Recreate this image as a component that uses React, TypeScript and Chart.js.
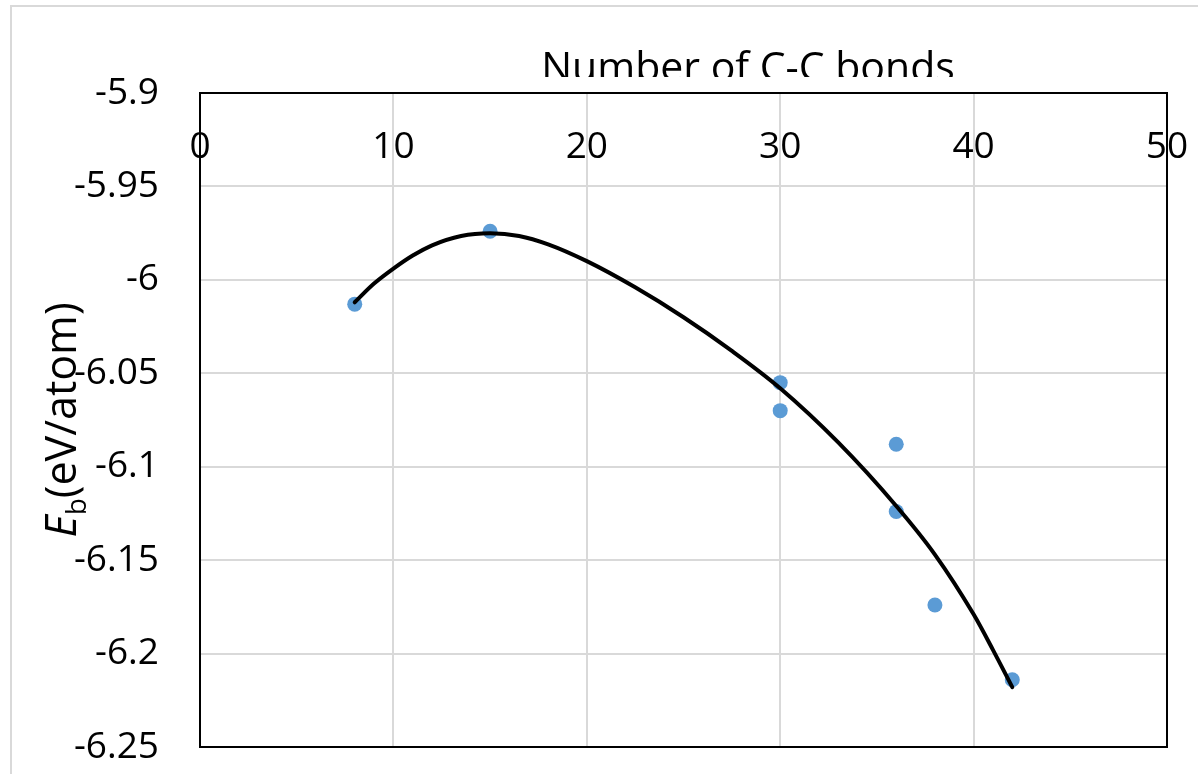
import React, { useEffect, useRef } from 'react';
import { Chart, registerables } from 'chart.js';

Chart.register(...registerables);

// Measured data points
const pointsX = [8, 15, 30, 30, 36, 36, 38, 42];
const pointsY = [-6.013, -5.974, -6.055, -6.07, -6.088, -6.124, -6.174, -6.214];

// Trendline
const trendX = [8, 9, 10, 11, 12, 13.5, 15, 16.5, 18, 20, 22.5, 25, 27.5, 30, 33, 36, 38, 40, 41, 42];
const trendY = [-6.012, -6.002, -5.994, -5.987, -5.9815, -5.9765, -5.975, -5.9765, -5.981, -5.99, -6.004, -6.02, -6.038, -6.058, -6.087, -6.121, -6.147, -6.179, -6.198, -6.218];

const xTicks = [0, 10, 20, 30, 40, 50];
const xTickLabels = ['0', '10', '20', '30', '40', '50'];
const yTicks = [-5.9, -5.95, -6, -6.05, -6.1, -6.15, -6.2, -6.25];
const yTickLabels = ['-5.9', '-5.95', '-6', '-6.05', '-6.1', '-6.15', '-6.2', '-6.25'];

const xTitle = 'Number of C-C bonds';
const yTitleMain = 'E';
const yTitleSub = 'b';
const yTitleRest = '(eV/atom)';

const FONT = '"Open Sans", sans-serif';
const TICK_SIZE = 37;
const TITLE_SIZE = 41;
const YTITLE_SIZE = 43;
const GRID = '#d9d9d9';

const decor = {
  id: 'decor',
  beforeDraw(chart: any) {
    const ctx = chart.ctx;
    ctx.save();
    ctx.fillStyle = '#ffffff';
    ctx.fillRect(0, 0, chart.width, chart.height);
    ctx.strokeStyle = GRID;
    ctx.lineWidth = 2;
    ctx.strokeRect(11, 6, 3000, 3000);
    ctx.restore();
  },
  beforeDatasetsDraw(chart: any) {
    const ctx = chart.ctx;
    const a = chart.chartArea;
    const xs = chart.scales.x;
    ctx.save();
    ctx.fillStyle = '#000';
    ctx.font = `${TICK_SIZE}px ${FONT}`;
    ctx.textAlign = 'center';
    ctx.textBaseline = 'middle';
    xTicks.forEach((v, i) => {
      ctx.fillText(xTickLabels[i], xs.getPixelForValue(v), a.top + 54);
    });
    ctx.strokeStyle = '#000';
    ctx.lineWidth = 2;
    ctx.beginPath();
    ctx.moveTo(a.left, a.bottom);
    ctx.lineTo(a.right, a.bottom);
    ctx.lineTo(a.right, a.top);
    ctx.stroke();
    ctx.restore();
  },
  afterDraw(chart: any) {
    const ctx = chart.ctx;
    const a = chart.chartArea;
    ctx.save();
    ctx.beginPath();
    ctx.rect(0, 0, chart.width, 77);
    ctx.clip();
    ctx.fillStyle = '#000';
    ctx.font = `${TITLE_SIZE}px ${FONT}`;
    ctx.textAlign = 'center';
    ctx.textBaseline = 'alphabetic';
    ctx.fillText(xTitle, 748, 81);
    ctx.restore();

    ctx.save();
    ctx.fillStyle = '#000';
    ctx.translate(76, (a.top + a.bottom) / 2);
    ctx.rotate(-Math.PI / 2);
    ctx.textAlign = 'left';
    ctx.textBaseline = 'alphabetic';
    const fMain = `italic ${YTITLE_SIZE}px ${FONT}`;
    const fSub = `28px ${FONT}`;
    const fRest = `${YTITLE_SIZE}px ${FONT}`;
    ctx.font = fMain;
    const wE = ctx.measureText(yTitleMain).width;
    ctx.font = fSub;
    const wb = ctx.measureText(yTitleSub).width;
    ctx.font = fRest;
    const wR = ctx.measureText(yTitleRest).width;
    let x = -(wE + wb + wR) / 2;
    ctx.font = fMain;
    ctx.fillText(yTitleMain, x, 0);
    x += wE;
    ctx.font = fSub;
    ctx.fillText(yTitleSub, x, 10);
    x += wb;
    ctx.font = fRest;
    ctx.fillText(yTitleRest, x, 0);
    ctx.restore();
  },
};

export default function App() {
  const ref = useRef<HTMLCanvasElement | null>(null);

  useEffect(() => {
    if (!ref.current) return;
    const chart = new Chart(ref.current, {
      type: 'scatter',
      data: {
        datasets: [
          {
            type: 'line',
            label: 'Trend',
            data: trendX.map((x, i) => ({ x, y: trendY[i] })),
            borderColor: '#000000',
            borderWidth: 4,
            pointRadius: 0,
            fill: false,
            cubicInterpolationMode: 'monotone',
            borderCapStyle: 'round',
            order: 0,
          } as any,
          {
            type: 'scatter',
            label: 'Eb',
            data: pointsX.map((x, i) => ({ x, y: pointsY[i] })),
            backgroundColor: '#5b9bd5',
            borderWidth: 0,
            pointRadius: 7.5,
            order: 1,
          } as any,
        ],
      },
      options: {
        animation: false,
        responsive: false,
        layout: { padding: { left: 0, top: 0, right: 31, bottom: 27 } },
        plugins: {
          legend: { display: false },
          tooltip: { enabled: false },
          title: { display: false },
        },
        scales: {
          x: {
            type: 'linear',
            position: 'top',
            min: 0,
            max: 50,
            afterBuildTicks: (s: any) => {
              s.ticks = xTicks.map((v) => ({ value: v }));
            },
            afterFit: (s: any) => {
              s.height = 93;
              s.paddingLeft = 0;
              s.paddingRight = 0;
            },
            ticks: { display: false },
            grid: { color: GRID, lineWidth: 2, drawTicks: false },
            border: { display: true, color: '#000', width: 2 },
          },
          y: {
            type: 'linear',
            position: 'left',
            min: -6.25,
            max: -5.9,
            afterBuildTicks: (s: any) => {
              s.ticks = yTicks.map((v) => ({ value: v }));
            },
            afterFit: (s: any) => {
              s.width = 200;
              s.paddingTop = 0;
              s.paddingBottom = 0;
            },
            ticks: {
              padding: 41,
              color: '#000',
              font: { family: FONT, size: TICK_SIZE },
              callback: (v: any) => {
                const i = yTicks.findIndex((t) => Math.abs(t - Number(v)) < 1e-9);
                return i >= 0 ? yTickLabels[i] : '';
              },
            },
            grid: { color: GRID, lineWidth: 2, drawTicks: false },
            border: { display: true, color: '#000', width: 2 },
          },
        },
      },
      plugins: [decor],
    });
    return () => chart.destroy();
  }, []);

  return (
    <div style={{ position: 'fixed', left: 0, top: 0, width: 1198, height: 774, background: '#fff' }}>
      <canvas ref={ref} width={1198} height={774} style={{ display: 'block' }} />
    </div>
  );
}
